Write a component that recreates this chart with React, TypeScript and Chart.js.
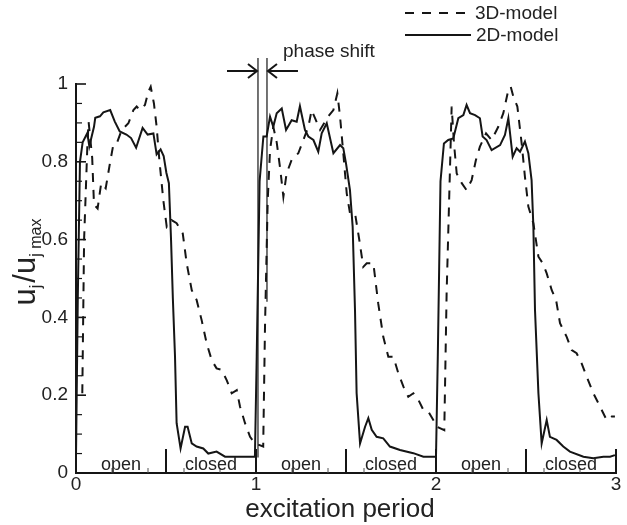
import React, { useEffect, useRef } from "react";
import { Chart, registerables } from "chart.js";

Chart.register(...registerables);

const FONT = '"Liberation Sans", Arial, Helvetica, sans-serif';
const INK = "#151515";

// 2D-model (solid)
const x2D = [
  0, 0.01, 0.022, 0.037, 0.063, 0.074, 0.1, 0.107, 0.133, 0.152,
  0.19, 0.215, 0.243, 0.28, 0.306, 0.334, 0.37, 0.398, 0.43, 0.448,
  0.47, 0.487, 0.502, 0.516, 0.528, 0.538, 0.55, 0.559, 0.581, 0.606, 0.62,
  0.643, 0.67, 0.707, 0.735, 0.781, 0.828, 0.874, 0.948, 0.994,
  1.004, 1.02, 1.041, 1.059, 1.078, 1.096, 1.115, 1.143, 1.167, 1.198,
  1.226, 1.244, 1.272, 1.291, 1.319, 1.346, 1.365, 1.393, 1.43, 1.467,
  1.485, 1.5, 1.522, 1.537, 1.55, 1.559, 1.578, 1.606, 1.624, 1.643,
  1.67, 1.707, 1.744, 1.8, 1.874, 1.93, 2.0,
  2.01, 2.025, 2.044, 2.068, 2.096, 2.124, 2.152, 2.17, 2.189, 2.217,
  2.244, 2.259, 2.281, 2.309, 2.356, 2.383, 2.402, 2.426, 2.448, 2.467,
  2.494, 2.513, 2.531, 2.541, 2.55, 2.569, 2.587, 2.615, 2.633, 2.67,
  2.707, 2.744, 2.819, 2.874, 2.93, 2.967, 2.994,
];
const y2D = [
  0.04, 0.45, 0.8, 0.85, 0.874, 0.84, 0.89, 0.913, 0.917, 0.927,
  0.933, 0.904, 0.878, 0.87, 0.861, 0.836, 0.887, 0.87, 0.873, 0.819,
  0.832, 0.815, 0.772, 0.745, 0.6, 0.45, 0.3, 0.128, 0.063, 0.119, 0.119,
  0.076, 0.068, 0.063, 0.05, 0.055, 0.042, 0.042, 0.042, 0.042,
  0.3, 0.75, 0.865, 0.865, 0.916, 0.89, 0.925, 0.937, 0.882, 0.907,
  0.903, 0.943, 0.882, 0.865, 0.856, 0.826, 0.873, 0.899, 0.822, 0.843,
  0.835, 0.796, 0.727, 0.633, 0.419, 0.205, 0.076, 0.119, 0.141, 0.111,
  0.093, 0.089, 0.068, 0.059, 0.051, 0.042, 0.042,
  0.3, 0.75, 0.847, 0.856, 0.86, 0.912, 0.92, 0.946, 0.925, 0.92,
  0.912, 0.865, 0.856, 0.83, 0.843, 0.869, 0.912, 0.813, 0.835, 0.826,
  0.852, 0.822, 0.753, 0.633, 0.419, 0.205, 0.076, 0.136, 0.093, 0.085,
  0.068, 0.055, 0.042, 0.038, 0.042, 0.042, 0.046,
];

// 3D-model (dashed)
const x3D = [
  0.035, 0.045, 0.063, 0.07, 0.09, 0.1, 0.12, 0.14, 0.165, 0.19,
  0.207, 0.226, 0.254, 0.291, 0.319, 0.337, 0.356, 0.383, 0.402, 0.415,
  0.433, 0.448, 0.463, 0.485, 0.504, 0.531, 0.559, 0.593, 0.615, 0.643,
  0.67, 0.698, 0.726, 0.754, 0.781, 0.809, 0.837, 0.865, 0.893, 0.911,
  0.939, 0.967, 0.994, 1.04,
  1.05, 1.065, 1.078, 1.096, 1.115, 1.135, 1.152, 1.17, 1.198, 1.235,
  1.263, 1.291, 1.309, 1.328, 1.356, 1.383, 1.407, 1.43, 1.452, 1.467,
  1.485, 1.504, 1.522, 1.55, 1.574, 1.596, 1.615, 1.652, 1.679, 1.707,
  1.735, 1.763, 1.791, 1.819, 1.846, 1.874, 1.902, 1.93, 1.957, 1.985,
  2.004, 2.046,
  2.059, 2.074, 2.087, 2.1, 2.115, 2.143, 2.17, 2.198, 2.222, 2.244,
  2.278, 2.309, 2.346, 2.374, 2.402, 2.415, 2.43, 2.452, 2.476, 2.494,
  2.513, 2.541, 2.569, 2.593, 2.615, 2.643, 2.667, 2.689, 2.726, 2.754,
  2.781, 2.809, 2.837, 2.874, 2.911, 2.948, 2.976, 2.994,
];
const y3D = [
  0.205, 0.6, 0.84, 0.903, 0.81, 0.69, 0.68, 0.745, 0.732, 0.8,
  0.843, 0.847, 0.882, 0.899, 0.933, 0.942, 0.933, 0.946, 0.98, 0.993,
  0.95, 0.89, 0.805, 0.702, 0.633, 0.65, 0.642, 0.616, 0.539, 0.47,
  0.445, 0.393, 0.333, 0.29, 0.269, 0.265, 0.239, 0.205, 0.213, 0.171,
  0.128, 0.093, 0.076, 0.068,
  0.376, 0.7, 0.83, 0.89, 0.85, 0.78, 0.71, 0.77, 0.805, 0.822,
  0.856, 0.89, 0.933, 0.912, 0.882, 0.903, 0.92, 0.933, 0.976, 0.916,
  0.822, 0.719, 0.668, 0.668, 0.599, 0.53, 0.539, 0.539, 0.436, 0.35,
  0.299, 0.299, 0.256, 0.222, 0.196, 0.205, 0.188, 0.162, 0.158, 0.136,
  0.119, 0.11,
  0.462, 0.719, 0.942, 0.847, 0.77, 0.745, 0.727, 0.753, 0.805, 0.839,
  0.873, 0.856, 0.89, 0.925, 0.985, 0.993, 0.967, 0.942, 0.847, 0.762,
  0.685, 0.642, 0.556, 0.539, 0.513, 0.47, 0.445, 0.385, 0.35, 0.316,
  0.308, 0.282, 0.248, 0.205, 0.171, 0.136, 0.145, 0.145,
];

const seriesNames = ["3D-model", "2D-model"];
const phaseNames = ["open", "closed"];
const periodStarts = [0, 1, 2];
const xTitle = "excitation period";
const phaseShiftText = "phase shift";
// annotation positions (data units)
const phaseLineX = [1.011, 1.061];
const phaseLineBottom = [0.04, 0.44];

const DASH = [9, 8];

export default function App() {
  const ref = useRef<HTMLCanvasElement>(null);

  useEffect(() => {
    document.body.style.margin = "0";
    const canvas = ref.current;
    if (!canvas) return;

    const deco = {
      id: "deco",
      afterDraw(chart: any) {
        const ctx = chart.ctx as CanvasRenderingContext2D;
        const xs = chart.scales.x;
        const ys = chart.scales.y;
        const { left, right, top, bottom } = chart.chartArea;
        ctx.save();
        ctx.strokeStyle = INK;
        ctx.fillStyle = INK;
        ctx.setLineDash([]);

        // spines
        ctx.lineWidth = 2;
        ctx.beginPath();
        ctx.moveTo(left, top - 1);
        ctx.lineTo(left, bottom);
        ctx.lineTo(right + 1, bottom);
        ctx.stroke();

        // y ticks (major 0.2, minor 0.05)
        for (let i = 0; i <= 20; i++) {
          const py = ys.getPixelForValue(i * 0.05);
          const major = i % 4 === 0;
          ctx.lineWidth = major ? 1.6 : 1.2;
          ctx.beginPath();
          ctx.moveTo(left, py);
          ctx.lineTo(left + (major ? 10 : 6), py);
          ctx.stroke();
        }
        // x minor ticks every 0.2
        ctx.lineWidth = 1;
        ctx.strokeStyle = "#555";
        for (let i = 1; i <= 15; i++) {
          const v = i * 0.2;
          if (Math.abs(v - Math.round(v)) < 1e-6) continue;
          const px = xs.getPixelForValue(v);
          ctx.beginPath();
          ctx.moveTo(px, bottom);
          ctx.lineTo(px, bottom - 5);
          ctx.stroke();
        }
        // open / closed separators
        ctx.strokeStyle = INK;
        ctx.lineWidth = 2;
        for (let i = 1; i <= 6; i++) {
          const px = xs.getPixelForValue(i * 0.5);
          ctx.beginPath();
          ctx.moveTo(px, bottom);
          ctx.lineTo(px, bottom - 24);
          ctx.stroke();
        }
        // open / closed labels
        ctx.font = `18px ${FONT}`;
        ctx.textAlign = "center";
        ctx.textBaseline = "alphabetic";
        ctx.fillStyle = "#222";
        periodStarts.forEach((p) => {
          ctx.fillText(phaseNames[0], xs.getPixelForValue(p + 0.25), bottom - 3);
          ctx.fillText(phaseNames[1], xs.getPixelForValue(p + 0.75), bottom - 3);
        });

        // phase shift annotation
        ctx.strokeStyle = INK;
        ctx.lineWidth = 1.2;
        const lx = phaseLineX.map((v) => xs.getPixelForValue(v));
        const topY = 58;
        lx.forEach((px, i) => {
          ctx.beginPath();
          ctx.moveTo(px, topY);
          ctx.lineTo(px, ys.getPixelForValue(phaseLineBottom[i]));
          ctx.stroke();
        });
        const ay = 71;
        ctx.lineWidth = 2;
        ctx.beginPath();
        ctx.moveTo(lx[0] - 31, ay);
        ctx.lineTo(lx[0] - 1, ay);
        ctx.moveTo(lx[0] - 10, ay - 7);
        ctx.lineTo(lx[0] - 1, ay);
        ctx.lineTo(lx[0] - 10, ay + 7);
        ctx.stroke();
        ctx.beginPath();
        ctx.moveTo(lx[1] + 31, ay);
        ctx.lineTo(lx[1] + 1, ay);
        ctx.moveTo(lx[1] + 10, ay - 7);
        ctx.lineTo(lx[1] + 1, ay);
        ctx.lineTo(lx[1] + 10, ay + 7);
        ctx.stroke();
        ctx.font = `19px ${FONT}`;
        ctx.textAlign = "left";
        ctx.fillStyle = "#222";
        ctx.fillText(phaseShiftText, 283, 57);

        // legend
        ctx.lineWidth = 2;
        ctx.strokeStyle = INK;
        ctx.setLineDash(DASH);
        ctx.beginPath();
        ctx.moveTo(405, 13);
        ctx.lineTo(473, 13);
        ctx.stroke();
        ctx.setLineDash([]);
        ctx.beginPath();
        ctx.moveTo(405, 35);
        ctx.lineTo(471, 35);
        ctx.stroke();
        ctx.textBaseline = "middle";
        ctx.fillText(seriesNames[0], 475, 14);
        ctx.fillText(seriesNames[1], 476, 36);

        // x title
        ctx.font = `26px ${FONT}`;
        ctx.textAlign = "center";
        ctx.textBaseline = "alphabetic";
        ctx.fillText(xTitle, 340, 517);

        // y title  u_j / u_j max (rotated)
        const big = `31px ${FONT}`;
        const small = `16px ${FONT}`;
        const parts: [string, string, number][] = [
          ["u", big, 0],
          ["j", small, 6],
          ["/", big, 0],
          ["u", big, 0],
          ["j max", small, 6],
        ];
        let total = 0;
        const widths = parts.map(([t, f]) => {
          ctx.font = f;
          const w = ctx.measureText(t).width;
          total += w;
          return w;
        });
        total += 2;
        const cy = 262;
        ctx.translate(35, cy + total / 2);
        ctx.rotate(-Math.PI / 2);
        ctx.textAlign = "left";
        let pos = 0;
        parts.forEach(([t, f, dy], i) => {
          ctx.font = f;
          ctx.fillText(t, pos, dy);
          pos += widths[i] + (i === 1 ? 2 : 0);
        });
        ctx.restore();
      },
    };

    const chart = new Chart(canvas, {
      type: "line",
      data: {
        datasets: [
          {
            label: seriesNames[0],
            data: x3D.map((x, i) => ({ x, y: y3D[i] })),
            borderColor: INK,
            borderWidth: 2,
            borderDash: DASH,
            pointRadius: 0,
            tension: 0,
            fill: false,
          },
          {
            label: seriesNames[1],
            data: x2D.map((x, i) => ({ x, y: y2D[i] })),
            borderColor: INK,
            borderWidth: 2,
            pointRadius: 0,
            tension: 0,
            fill: false,
          },
        ],
      },
      options: {
        responsive: false,
        animation: false,
        events: [],
        layout: { padding: { top: 84, right: 11, left: 0, bottom: 0 } },
        plugins: {
          legend: { display: false },
          tooltip: { enabled: false },
          title: { display: false },
        },
        scales: {
          x: {
            type: "linear",
            min: 0,
            max: 3,
            grid: { display: false, drawTicks: false },
            border: { display: false },
            ticks: {
              stepSize: 1,
              autoSkip: false,
              maxRotation: 0,
              padding: 0,
              color: "#222",
              font: { family: FONT, size: 19 },
            },
            afterFit: (s: any) => {
              s.height = 52;
            },
          },
          y: {
            type: "linear",
            min: 0,
            max: 1,
            grid: { display: false, drawTicks: false },
            border: { display: false },
            ticks: {
              stepSize: 0.2,
              padding: 8,
              color: "#222",
              font: { family: FONT, size: 19 },
              callback: (v: any) => Number(v).toFixed(1).replace(/\.0$/, ""),
            },
            afterFit: (s: any) => {
              s.width = 76;
            },
          },
        },
      },
      plugins: [deco],
    });

    return () => chart.destroy();
  }, []);

  return (
    <div style={{ position: "absolute", left: 0, top: 0, width: 627, height: 525 }}>
      <canvas ref={ref} width={627} height={525} style={{ width: 627, height: 525, display: "block" }} />
    </div>
  );
}
